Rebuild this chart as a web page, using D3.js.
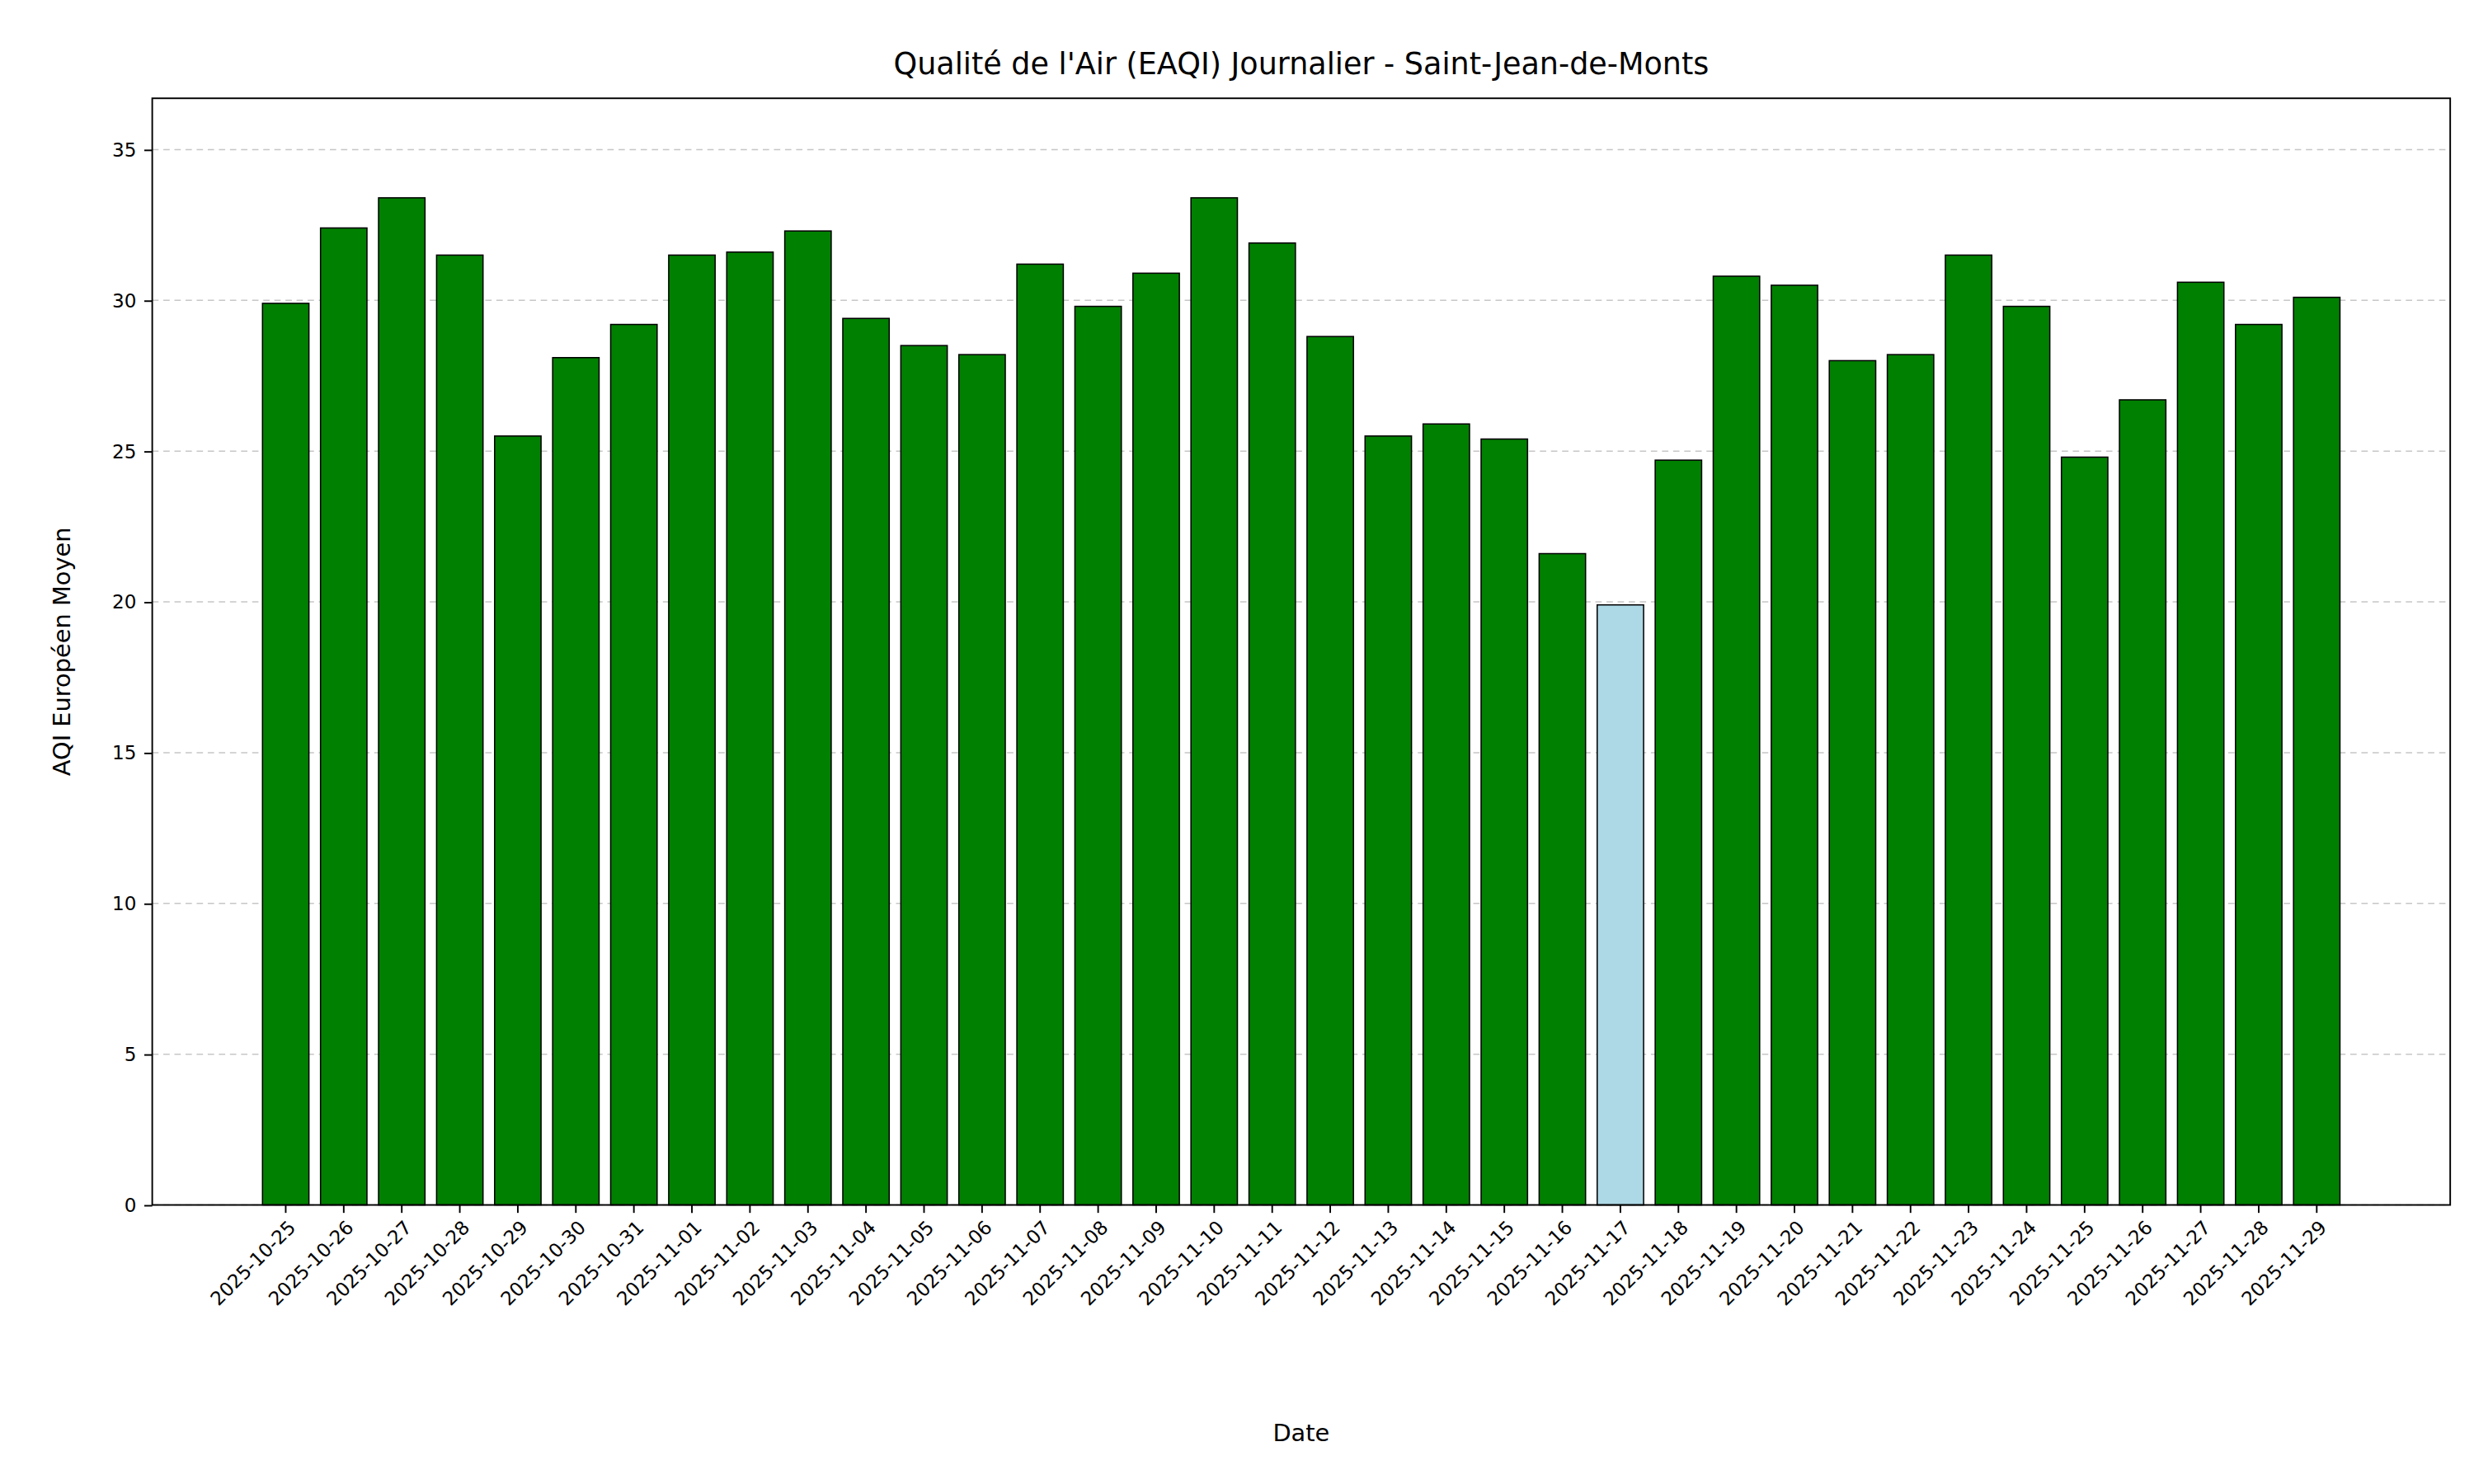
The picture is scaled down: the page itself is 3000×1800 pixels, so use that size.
<!DOCTYPE html>
<html>
<head>
<meta charset="utf-8">
<script src="https://cdn.jsdelivr.net/npm/d3@7"></script>
<style>
  body { margin: 0; background: #fff; }
  text { font-family: "DejaVu Sans", sans-serif; }
</style>
</head>
<body>
<script>
// données
const dates = ["2025-10-25","2025-10-26","2025-10-27","2025-10-28","2025-10-29","2025-10-30",
  "2025-10-31","2025-11-01","2025-11-02","2025-11-03","2025-11-04","2025-11-05","2025-11-06",
  "2025-11-07","2025-11-08","2025-11-09","2025-11-10","2025-11-11","2025-11-12","2025-11-13",
  "2025-11-14","2025-11-15","2025-11-16","2025-11-17","2025-11-18","2025-11-19","2025-11-20",
  "2025-11-21","2025-11-22","2025-11-23","2025-11-24","2025-11-25","2025-11-26","2025-11-27",
  "2025-11-28","2025-11-29"];
const aqi = [29.9,32.4,33.4,31.5,25.5,28.1,29.2,31.5,31.6,32.3,29.4,28.5,28.2,31.2,29.8,30.9,
  33.4,31.9,28.8,25.5,25.9,25.4,21.6,19.9,24.7,30.8,30.5,28.0,28.2,31.5,29.8,24.8,26.7,30.6,
  29.2,30.1];
const barColors = aqi.map(v => v < 20 ? "#add8e6" : "#008000");
const yTicks = [0,5,10,15,20,25,30,35];

const mLeft = 96, mRight = 1545, mTop = 62, mBottom = 760;

const svg = d3.select("body").append("svg")
  .attr("width", 3000).attr("height", 1800)
  .attr("viewBox", "0 0 1560 936");

const x = d3.scaleBand().domain(dates).range([mLeft, mRight])
  .paddingInner(0.2).paddingOuter(1.9);
const y = d3.scaleLinear().domain([0, 36.7]).range([mBottom, mTop]);

// grille
svg.append("g").selectAll("line").data(yTicks).join("line")
  .attr("x1", mLeft).attr("x2", mRight)
  .attr("y1", d => y(d)).attr("y2", d => y(d))
  .attr("stroke", "#b0b0b0").attr("stroke-width", 0.8)
  .attr("stroke-dasharray", "4,3").attr("opacity", 0.7);

// barres
svg.append("g").selectAll("rect").data(aqi).join("rect")
  .attr("x", (d, i) => x(dates[i]))
  .attr("y", d => y(d))
  .attr("width", x.bandwidth())
  .attr("height", d => mBottom - y(d))
  .attr("fill", (d, i) => barColors[i])
  .attr("stroke", "#000").attr("stroke-width", 0.8);

// axes
const yAxis = svg.append("g").attr("transform", `translate(${mLeft},0)`)
  .call(d3.axisLeft(y).tickValues(yTicks).tickSize(5).tickPadding(5));
yAxis.select(".domain").remove();
yAxis.selectAll("text").attr("font-size", 12).attr("fill", "#000");

const xAxis = svg.append("g").attr("transform", `translate(0,${mBottom})`)
  .call(d3.axisBottom(x).tickSize(5));
xAxis.select(".domain").remove();
xAxis.selectAll("text")
  .attr("font-size", 12).attr("fill", "#000")
  .attr("text-anchor", "end")
  .attr("y", 0).attr("dy", "0.35em")
  .attr("transform", "translate(4,12) rotate(-45)");

svg.append("rect").attr("x", mLeft).attr("y", mTop)
  .attr("width", mRight - mLeft).attr("height", mBottom - mTop)
  .attr("fill", "none").attr("stroke", "#000").attr("stroke-width", 1);

// textes
svg.append("text").attr("x", (mLeft + mRight) / 2).attr("y", 47)
  .attr("text-anchor", "middle").attr("font-size", 19)
  .text("Qualité de l'Air (EAQI) Journalier - Saint-Jean-de-Monts");
svg.append("text").attr("x", (mLeft + mRight) / 2).attr("y", 909)
  .attr("text-anchor", "middle").attr("font-size", 15).text("Date");
svg.append("text").attr("transform", `translate(44,${(mTop + mBottom) / 2}) rotate(-90)`)
  .attr("text-anchor", "middle").attr("font-size", 15).text("AQI Européen Moyen");
</script>
</body>
</html>
